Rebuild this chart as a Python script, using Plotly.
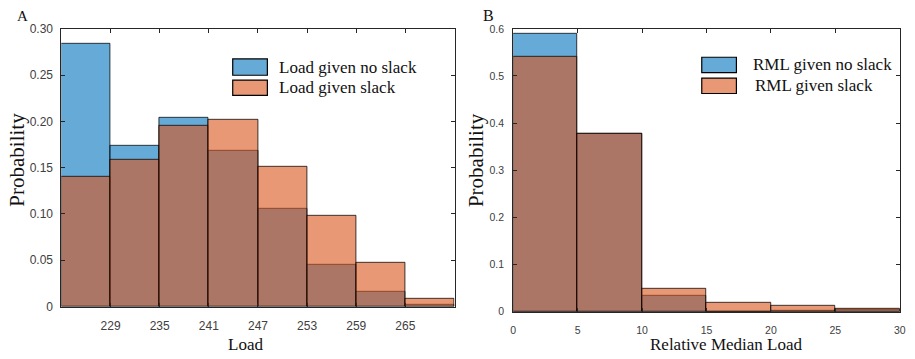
import plotly.graph_objects as go

W, H = 915, 359

# ---------------- data ----------------
load_edges = [223, 229, 235, 241, 247, 253, 259, 265, 271]
load_no_slack = [0.284, 0.174, 0.204, 0.168, 0.106, 0.045, 0.016, 0.0015]
load_slack = [0.140, 0.158, 0.195, 0.202, 0.151, 0.098, 0.047, 0.0085]
load_ticks = [229, 235, 241, 247, 253, 259, 265]
load_yticks = [0, 0.05, 0.10, 0.15, 0.20, 0.25, 0.30]
load_yticklabels = ["0", "0.05", "0.10", "0.15", "0.20", "0.25", "0.30"]

rml_edges = [0, 5, 10, 15, 20, 25, 30]
rml_no_slack = [0.590, 0.377, 0.033, 0.0005, 0.002, 0.004]
rml_slack = [0.540, 0.377, 0.048, 0.019, 0.013, 0.005]
rml_xticks = [0, 5, 10, 15, 20, 25, 30]
rml_yticks = [0, 0.1, 0.2, 0.3, 0.4, 0.5, 0.6]
rml_yticklabels = ["0", "0.1", "0.2", "0.3", "0.4", "0.5", "0.6"]

BLUE = "rgba(0,114,189,0.6)"
ORANGE = "rgba(217,83,25,0.6)"
EDGE = "rgba(0,0,0,0.75)"


def centers(edges):
    return [(a + b) / 2 for a, b in zip(edges[:-1], edges[1:])]


def widths(edges):
    return [b - a for a, b in zip(edges[:-1], edges[1:])]


def px(x):
    return x / W


def py(y):
    return 1 - y / H


fig = go.Figure()

fig.add_trace(go.Bar(x=centers(load_edges), y=load_no_slack, width=widths(load_edges),
                     marker=dict(color=BLUE, line=dict(color=EDGE, width=1)),
                     name="Load given no slack", xaxis="x", yaxis="y", showlegend=False))
fig.add_trace(go.Bar(x=centers(load_edges), y=load_slack, width=widths(load_edges),
                     marker=dict(color=ORANGE, line=dict(color=EDGE, width=1)),
                     name="Load given slack", xaxis="x", yaxis="y", showlegend=False))
fig.add_trace(go.Bar(x=centers(rml_edges), y=rml_no_slack, width=widths(rml_edges),
                     marker=dict(color=BLUE, line=dict(color=EDGE, width=1)),
                     name="RML given no slack", xaxis="x2", yaxis="y2", showlegend=False))
fig.add_trace(go.Bar(x=centers(rml_edges), y=rml_slack, width=widths(rml_edges),
                     marker=dict(color=ORANGE, line=dict(color=EDGE, width=1)),
                     name="RML given slack", xaxis="x2", yaxis="y2", showlegend=False))

AXCOL = "#262626"
TICKCOL = "#404040"
narrow = dict(family="Liberation Sans Narrow, Arial Narrow, Liberation Sans, Arial", size=12, color=TICKCOL)
normal = dict(family="Liberation Sans, Arial", size=10.5, color=TICKCOL)

common = dict(showline=True, mirror="allticks", linecolor=AXCOL, linewidth=1,
              ticks="inside", ticklen=4, tickcolor=AXCOL, showgrid=False, zeroline=False)

fig.update_layout(
    width=W, height=H,
    margin=dict(l=0, r=0, t=0, b=0),
    paper_bgcolor="white", plot_bgcolor="white",
    barmode="overlay", bargap=0,
    xaxis=dict(domain=[px(59), px(456)], range=[223, 271], tickvals=load_ticks,
               tickfont=narrow, ticklabelstandoff=8, anchor="y", **common),
    yaxis=dict(domain=[py(311.7), py(22.7)], range=[0, 0.30], tickvals=load_yticks,
               ticktext=load_yticklabels, tickfont=narrow, ticklabelstandoff=5, anchor="x", **common),
    xaxis2=dict(domain=[px(515.3), px(905.7)], range=[0, 30], tickvals=rml_xticks,
                tickfont=normal, ticklabelstandoff=9, anchor="y2", **common),
    yaxis2=dict(domain=[py(317), py(22.7)], range=[0, 0.6], tickvals=rml_yticks,
                ticktext=rml_yticklabels, tickfont=normal, ticklabelstandoff=6, anchor="x2", **common),
)

SERIF = "Liberation Serif, Times New Roman, serif"

annotations = [
    dict(text="A", x=px(20), y=py(9.5), font=dict(family=SERIF, size=15, color="#111")),
    dict(text="B", x=px(490), y=py(9), font=dict(family=SERIF, size=16, color="#111")),
    dict(text="Probability", x=px(14), y=py(159), textangle=-90, font=dict(family=SERIF, size=21, color="#111")),
    dict(text="Probability", x=px(478), y=py(159), textangle=-90, font=dict(family=SERIF, size=21, color="#111")),
    dict(text="Load", x=px(244.5), y=py(351), font=dict(family=SERIF, size=17, color="#111")),
    dict(text="Relative Median Load", x=px(731), y=py(351), font=dict(family=SERIF, size=17, color="#111")),
]
legend_items = [
    ("Load given no slack", BLUE, 232, 267, 54, 71, 277),
    ("Load given slack", ORANGE, 232, 267, 76, 92, 277),
    ("RML given no slack", BLUE, 705.7, 740.7, 52.3, 68.3, 755.7),
    ("RML given slack", ORANGE, 705.7, 740.7, 74, 90, 757),
]
shapes = []
for label, col, x0, x1, y0, y1, tx in legend_items:
    shapes.append(dict(type="rect", xref="paper", yref="paper",
                       x0=px(x0), x1=px(x1), y0=py(y1), y1=py(y0),
                       fillcolor=col, line=dict(color="black", width=1.2)))
    annotations.append(dict(text=label, x=px(tx), y=py((y0 + y1) / 2), xanchor="left",
                            font=dict(family=SERIF, size=17, color="#111")))

for a in annotations:
    a.setdefault("xanchor", "center")
    a.update(xref="paper", yref="paper", showarrow=False, yanchor="middle")

fig.update_layout(annotations=annotations, shapes=shapes)

fig.write_html("out.html")
